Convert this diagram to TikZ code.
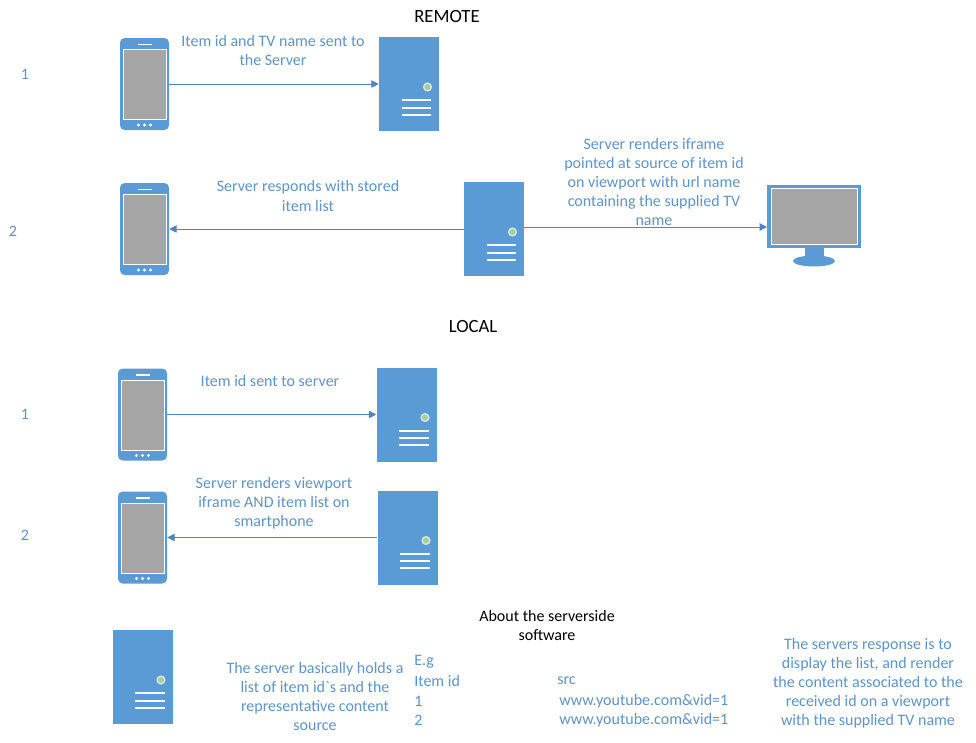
\documentclass[tikz,border=0pt]{standalone}
\usepackage{fontspec}
\setmainfont{Carlito}
\newfontfamily\rawfont{Carlito}
\usepackage{xcolor}
\usepackage{tikz}
\usetikzlibrary{arrows.meta,positioning,calc}
\definecolor{IconBlue}{HTML}{5B9BD5}
\definecolor{NoteBlue}{HTML}{5E94C6}
\definecolor{LinkBlue}{HTML}{4F84BC}
\definecolor{ScreenGray}{HTML}{A5A5A5}
\definecolor{LedGreen}{HTML}{A9D18E}
\tikzset{
  serverbox/.style={fill=IconBlue,minimum width=45pt,minimum height=70.5pt,inner sep=0pt,
    path picture={
      \begin{scope}[shift={(path picture bounding box.center)}]
      \fill[white!75!IconBlue] (18.5,3) circle (4.6);
      \fill[LedGreen] (18.5,3) circle (3);
      \foreach \yy in {16,23.5,30.5}
        \draw[white,line width=1.5pt] (-7.5,\yy) -- (22,\yy);
      \end{scope}}},
  phonebox/.style={fill=IconBlue,rounded corners=3.5pt,minimum width=36.75pt,minimum height=69pt,inner sep=0pt,
    path picture={
      \begin{scope}[shift={(path picture bounding box.center)}]
      \draw[white,line width=.6pt,fill=ScreenGray,sharp corners] (-21.5,-34.5) rectangle (21.5,35.5);
      \draw[white,line width=.8pt] (-7,-39.5) -- (7,-39.5);
      \foreach \xx in {-6,0,6}
        \fill[white] (\xx,41) circle (1.7);
      \end{scope}}},
  tvbox/.style={fill=IconBlue,minimum width=70pt,minimum height=47.25pt,inner sep=0pt,
    path picture={
      \begin{scope}[shift={(path picture bounding box.center)}]
      \draw[white,line width=.6pt,fill=ScreenGray] (-43,-28) rectangle (43,28);
      \end{scope}}},
  linkarrow/.style={draw=LinkBlue,line width=.7pt,-{Triangle[length=5.5pt,width=5.5pt]}},
  notetext/.style={text=NoteBlue,align=center,inner sep=0pt,font=\fontsize{12pt}{14.3pt}\selectfont},
  plaintext/.style={text=NoteBlue,anchor=west,inner sep=0pt,font=\fontsize{12pt}{14.3pt}\selectfont},
  headtext/.style={text=black,align=center,inner sep=0pt,font=\fontsize{12pt}{14.3pt}\selectfont},
  titletext/.style={text=black,align=center,inner sep=0pt,font=\fontsize{14pt}{16pt}\selectfont}
}
\begin{document}
\begin{tikzpicture}[x=.75pt,y=-.75pt]
\useasboundingbox[fill=white] (0,0) rectangle (976,743);
% remote
\node[titletext] (remotehead) at (447,17) {REMOTE};
\node[notetext] (remoteone) at (25,74) {1};
\node[phonebox] (phoneA) at (144.5,84) {};
\node[serverbox] (serverA) at (409,84) {};
\draw[linkarrow] (phoneA.east) -- (serverA.west);
\node[notetext] (noteA) at (273,50.5) {Item id and TV name sent to\\the Server};

\node[notetext] (remotetwo) at (13,231) {2};
\node[phonebox] (phoneB) at (144.5,229) {};
\node[serverbox] (serverB) at (494,229) {};
\node[tvbox] (tvB) at (814,216.5) {};
\fill[IconBlue] (805,248) rectangle (824,257);
\fill[IconBlue] (814,261) ellipse (21 and 5.5);
\draw[linkarrow] (serverB.west) -- (phoneB.east);
\draw[linkarrow] ([yshift=1.5pt]serverB.east) -- ([yshift=1.5pt]serverB.east -| tvB.west);
\node[notetext] (noteB) at (308,196) {Server responds with stored\\item list};
\node[notetext] (noteC) at (654,182) {Server renders iframe\\pointed at source of item id\\on viewport with url name\\containing the supplied TV\\name};

% local
\node[titletext] (localhead) at (473,327) {LOCAL};
\node[notetext] (localone) at (25,414) {1};
\node[phonebox] (phoneC) at (142.5,414.5) {};
\node[serverbox] (serverC) at (406.5,414.5) {};
\draw[linkarrow] (phoneC.east) -- (serverC.west);
\node[notetext] (noteD) at (270,381) {Item id sent to server};

\node[notetext] (localtwo) at (25,535) {2};
\node[phonebox] (phoneD) at (142.5,537.5) {};
\node[serverbox] (serverD) at (407.5,537.5) {};
\draw[linkarrow] (serverD.west) -- (phoneD.east);
\node[notetext] (noteE) at (274,503.5) {Server renders viewport\\iframe AND item list on\\smartphone};

% serverside
\node[headtext] (abouthead) at (547,625.5) {About the serverside\\software};
\node[serverbox] (serverE) at (142.5,677) {};
\node[notetext] (noteF) at (315,696.5) {The server basically holds a\\list of item id{\rawfont`}s and the\\representative content\\source};
\node[plaintext] (egtext) at (414,662) {E.g};
\node[plaintext] (idhead) at (414,681) {Item id};
\node[plaintext] (idone) at (414,701) {1};
\node[plaintext] (idtwo) at (414,720) {2};
\node[plaintext] (srchead) at (557,681) {src};
\node[plaintext] (srcone) at (559,701) {www.youtube.com\&vid=1};
\node[plaintext] (srctwo) at (559,720) {www.youtube.com\&vid=1};
\node[notetext] (noteG) at (868,683.5) {The servers response is to\\display the list, and render\\the content associated to the\\received id on a viewport\\with the supplied TV name};
\end{tikzpicture}
\end{document}
